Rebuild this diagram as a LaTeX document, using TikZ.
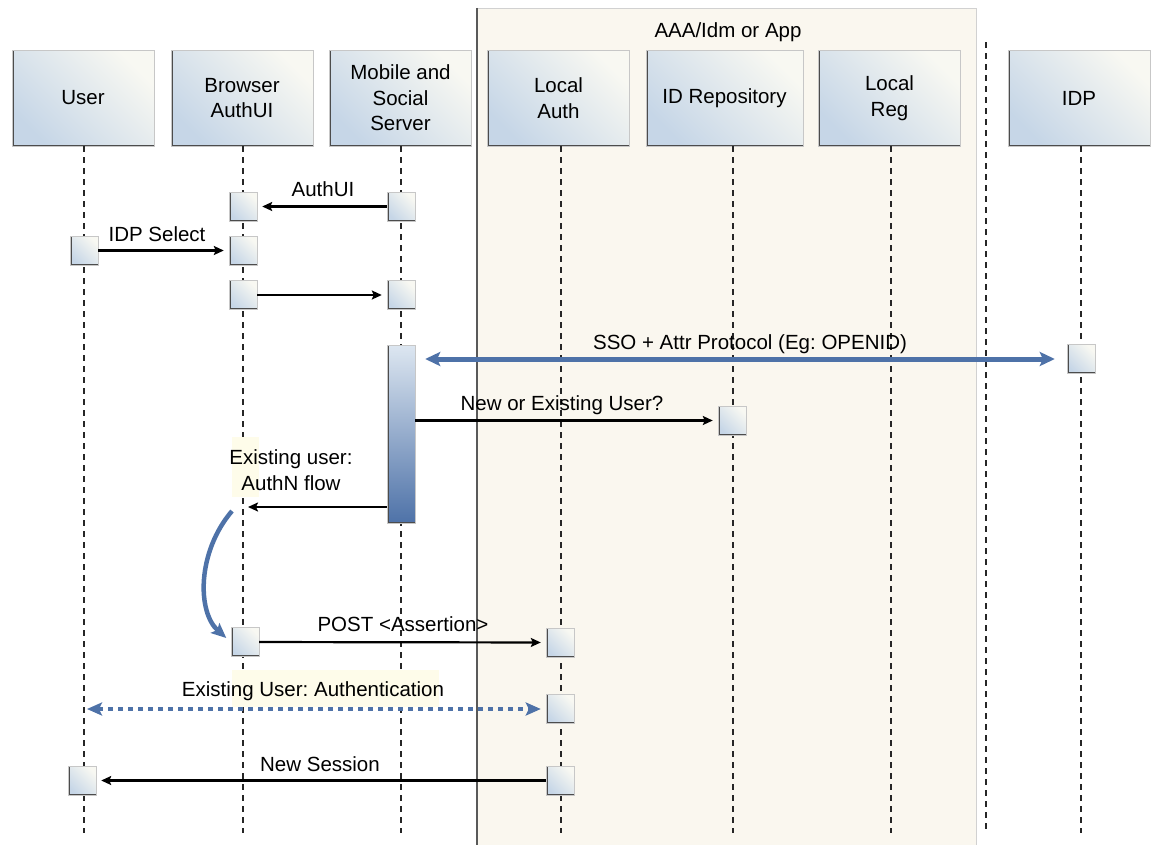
\documentclass[tikz,border=0pt]{standalone}
\usepackage{fontspec}
\setmainfont{Liberation Sans}
\frenchspacing
\usetikzlibrary{arrows.meta}
\definecolor{sdblue}{HTML}{4E72A8}
\definecolor{sdpale}{HTML}{C6D6E7}
\definecolor{sdlight}{HTML}{F8F8F2}
\definecolor{sdpanelfill}{HTML}{FAF7EF}
\definecolor{sdnotefill}{HTML}{FEFCEA}
\newcommand\sdfont{\fontsize{20.5pt}{25.5pt}\selectfont}
\tikzset{
  sdhead/.style={rectangle, draw=black!22, left color=sdpale, right color=sdlight,
                 shading angle=135, minimum width=142pt, minimum height=96pt,
                 inner sep=0pt, align=center, font=\sdfont,
                 path picture={\draw[black!70, line width=3pt]
                   (path picture bounding box.north west) --
                   (path picture bounding box.south west) --
                   (path picture bounding box.south east);}},
  sdact/.style={sdhead, minimum width=28pt, minimum height=29pt},
  sdbar/.style={sdact, minimum height=178pt, top color=sdpale!60!white,
                bottom color=sdblue},
  sdpanel/.style={rectangle, fill=sdpanelfill, draw=black!18,
                  minimum width=499pt, minimum height=844pt, inner sep=0pt},
  sdlife/.style={draw, black!85, line width=1.3pt, dash pattern=on 6pt off 5pt},
  sdmsg/.style={draw, line width=2.2pt,
                -{Stealth[length=10pt, width=9pt, inset=2pt]}, shorten >=5pt},
  sdsync/.style={draw, sdblue, line width=5pt,
                 {Stealth[length=15pt, width=14pt, inset=3pt]}-{Stealth[length=15pt, width=14pt, inset=3pt]},
                 shorten <=10pt, shorten >=12pt},
  sdasync/.style={draw, sdblue, line width=4.5pt, dash pattern=on 5pt off 5pt,
                  {Stealth[length=15pt, width=13pt, inset=3pt]}-{Stealth[length=15pt, width=13pt, inset=3pt]},
                  shorten <=3pt, shorten >=5pt},
  sdflow/.style={draw, sdblue, line width=4.5pt,
                 -{Stealth[length=15pt, width=13pt, inset=3pt]}, shorten >=6pt},
  sdlabel/.style={font=\sdfont, text height=14.5pt, text depth=0pt, inner sep=0pt},
  sdnote/.style={font=\sdfont, align=center, inner sep=0pt},
  sdhilite/.style={fill=sdnotefill}
}

\begin{document}
\begin{tikzpicture}[x=1pt, y=-1pt]
  \useasboundingbox (0,0) rectangle (1157,844);
  % the AAA/Idm or App group
  \node[sdpanel] (aaa) at (726.5,430) {};
  \draw[black!65, line width=1.5pt] (aaa.north west) -- (aaa.south west);
  \node[sdlabel] (aaatitle) at (728,30) {AAA/Idm or App};

  \node[sdhead] (user) at (83,98) {User};
  \node[sdhead] (browser) at (242,98) {Browser\\AuthUI};
  \node[sdhead] (mobile) at (400.5,98) {Mobile and\\Social\\Server};
  \node[sdhead] (lauth) at (558.5,98) {Local\\Auth};
  \node[sdhead, minimum width=157pt] (idrepo) at (724.5,98) {ID Repository};
  \node[sdhead] (lreg) at (889.5,98) {Local\\Reg};
  \node[sdhead] (idp) at (1079,98) {IDP};

  % lifelines
  \foreach \n/\x in {user/84, browser/243, mobile/401, lauth/561,
                     idrepo/733, lreg/891, idp/1081} {
    \coordinate (\n end) at (\x,833);
    \draw[sdlife] (\n.south -| \n end) -- (\n end);
  }
  \coordinate (septop) at (986,42);
  \coordinate (sepbot) at (986,833);
  \draw[sdlife] (septop) -- (sepbot);

  % label backgrounds
  \fill[sdhilite] (232,437) rectangle (259,497);
  \fill[sdhilite] (232,670) rectangle (439,707);

  \node[sdact] (b1) at (243,206.5) {};
  \node[sdact] (m1) at (401,206.5) {};
  \node[sdact] (u1) at (84,250.5) {};
  \node[sdact] (b2) at (243,250.5) {};
  \node[sdact] (b3) at (243,295) {};
  \node[sdact] (m2) at (401,295) {};
  \node[sdbar] (mbar) at (401,434) {};
  \node[sdact] (idpact) at (1081,359) {};
  \node[sdact] (repoact) at (732,420.5) {};
  \node[sdact] (b4) at (245,642) {};
  \node[sdact] (la1) at (560,642.5) {};
  \node[sdact] (la2) at (560,709) {};
  \node[sdact] (u2) at (82,780.5) {};
  \node[sdact] (la3) at (560,780.5) {};

  \draw[sdmsg] (m1) -- (b1);
  \draw[sdmsg] (u1) -- (b2);
  \draw[sdmsg] (b3) -- (m2);
  \draw[sdsync] (mbar.east |- idpact) -- (idpact);
  \draw[sdmsg] (mbar.east |- repoact) -- (repoact);
  \coordinate (authn) at (243,507);
  \draw[sdmsg] (mbar.west |- authn) -- (authn);
  \coordinate (bendtop) at (232,511);
  \draw[sdflow] (bendtop) .. controls (197,552) and (197,612) .. (b4.west);
  \draw[sdmsg] (b4) -- (la1);
  \coordinate (uauth) at (84,709);
  \draw[sdasync] (uauth) -- (la2);
  \draw[sdmsg] (la3) -- (u2);

  \node[sdlabel] (lblauthui) at (323,189) {AuthUI};
  \node[sdlabel] (lblidpsel) at (157,234) {IDP Select};
  \node[sdlabel] (lblsso) at (750,342) {SSO + Attr Protocol (Eg: OPENID)};
  \node[sdlabel] (lblnewex) at (562,403) {New or Existing User?};
  \node[sdnote] (lblauthn) at (291,470) {Existing user:\\AuthN flow};
  \node[sdlabel] (lblpost) at (403,624) {POST <Assertion>};
  \node[sdlabel] (lblexist) at (313,689) {Existing User: Authentication};
  \node[sdlabel] (lblsession) at (320,764) {New Session};
\end{tikzpicture}
\end{document}
